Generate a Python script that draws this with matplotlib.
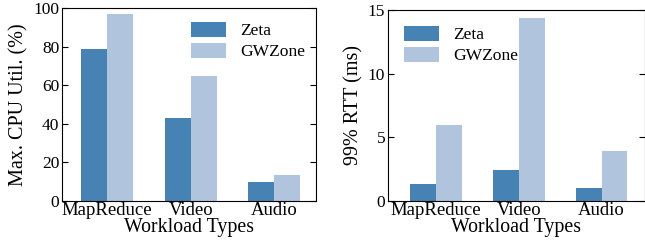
import numpy as np
import matplotlib
matplotlib.use("Agg")
import matplotlib.pyplot as plt

plt.rcParams['font.family'] = ['Liberation Serif', 'DejaVu Serif']
plt.rcParams['mathtext.fontset'] = 'stix'

workloads = ["MapReduce", "Video", "Audio"]
series = ["Zeta", "GWZone"]
cpu_zeta = [79, 43, 10]
cpu_gwzone = [97, 65, 13.5]
rtt_zeta = [1.35, 2.4, 1.05]
rtt_gwzone = [5.95, 14.4, 3.95]

colors = ["#4682B4", "#B0C4DE"]
w = 0.31
x = np.arange(len(workloads))

fig = plt.figure(figsize=(6.45, 2.48), dpi=100)
ax1 = fig.add_axes([0.096, 0.19, 0.394, 0.777])
ax2 = fig.add_axes([0.6016, 0.19, 0.398, 0.77])


def draw(ax, a, b, ylabel, yticks, ylim, xlim, anchor):
    ax.bar(x - w / 2, a, w, color=colors[0], label=series[0])
    ax.bar(x + w / 2, b, w, color=colors[1], label=series[1])
    ax.set_xticks(x)
    ax.set_xticklabels(workloads, fontsize=13.5)
    ax.set_yticks(yticks)
    ax.set_ylim(*ylim)
    ax.set_xlim(*xlim)
    ax.tick_params(axis='y', direction='in', right=True, labelsize=12.5, length=4, pad=2)
    ax.tick_params(axis='x', length=0, pad=1)
    ax.set_xlabel("Workload Types", fontsize=14.3, labelpad=-1)
    ax.set_ylabel(ylabel, fontsize=14.5, labelpad=3)
    ax.legend(loc="upper left", bbox_to_anchor=anchor, frameon=False, fontsize=12.6,
              handlelength=2.0, handleheight=0.95, labelspacing=0.2, handletextpad=0.8,
              borderpad=0, borderaxespad=0)


draw(ax1, cpu_zeta, cpu_gwzone, "Max. CPU Util. (%)", [0, 20, 40, 60, 80, 100],
     (0, 100), (-0.54, 2.5), (0.507, 0.93))
draw(ax2, rtt_zeta, rtt_gwzone, "99% RTT (ms)", [0, 5, 10, 15],
     (0, 15), (-0.58, 2.52), (0.062, 0.917))

fig.savefig("out.png", dpi=100)
